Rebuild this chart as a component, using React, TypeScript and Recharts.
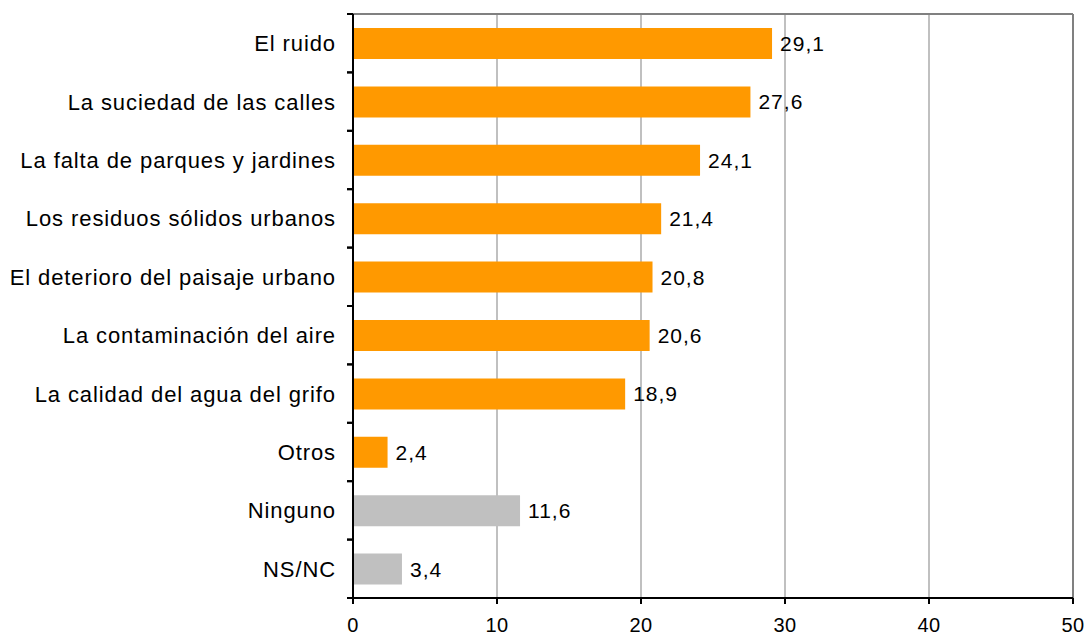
import React from 'react';
import {
  BarChart,
  Bar,
  XAxis,
  YAxis,
  CartesianGrid,
  LabelList,
  ReferenceLine,
  Cell,
} from 'recharts';

const categories = [
  'El ruido',
  'La suciedad de las calles',
  'La falta de parques y jardines',
  'Los residuos sólidos urbanos',
  'El deterioro del paisaje urbano',
  'La contaminación del aire',
  'La calidad del agua del grifo',
  'Otros',
  'Ninguno',
  'NS/NC',
];
const values = [29.1, 27.6, 24.1, 21.4, 20.8, 20.6, 18.9, 2.4, 11.6, 3.4];
const isGray = [false, false, false, false, false, false, false, false, true, true];
const xTicks = [0, 10, 20, 30, 40, 50];

const data = categories.map((name, i) => ({ name, value: values[i], gray: isGray[i] }));

const W = 1090;
const H = 638;
const PLOT_LEFT = 353;
const PLOT_TOP = 14;
const PLOT_BOTTOM = 598;
const BAND = (PLOT_BOTTOM - PLOT_TOP) / categories.length;
const FONT = 'Liberation Sans, Arial, sans-serif';

const CategoryTick = (props: any) => {
  const { y, payload } = props;
  return (
    <g>
      <line x1={PLOT_LEFT - 6} x2={PLOT_LEFT} y1={y - BAND / 2} y2={y - BAND / 2} stroke="#000" strokeWidth={2} />
      <line x1={PLOT_LEFT - 6} x2={PLOT_LEFT} y1={y + BAND / 2} y2={y + BAND / 2} stroke="#000" strokeWidth={2} />
      <text
        x={PLOT_LEFT - 17}
        y={y}
        dy={8}
        textAnchor="end"
        fill="#000"
        fontSize={22}
        fontFamily={FONT}
        letterSpacing={0.9}
      >
        {payload.value}
      </text>
    </g>
  );
};

const fmt = (v: any) => String(v).replace('.', ',');

export default function App() {
  return (
    <div style={{ position: 'absolute', left: 0, top: 0, background: '#fff' }}>
      <BarChart
        width={W}
        height={H}
        data={data}
        layout="vertical"
        margin={{ top: PLOT_TOP, right: 17, bottom: 0, left: 0 }}
        barCategoryGap={0}
      >
        <CartesianGrid horizontal={false} vertical stroke="#c0c0c0" strokeWidth={2} />
        <ReferenceLine x={50} stroke="#808080" strokeWidth={2} />
        <XAxis
          type="number"
          domain={[0, 50]}
          ticks={xTicks}
          height={H - PLOT_BOTTOM}
          axisLine={{ stroke: '#000', strokeWidth: 2 }}
          tickLine={{ stroke: '#000', strokeWidth: 2 }}
          tickSize={6}
          tickMargin={14}
          tick={{ fill: '#000', fontSize: 20, fontFamily: FONT, letterSpacing: 0.5 }}
          interval={0}
        />
        <YAxis
          type="category"
          dataKey="name"
          width={PLOT_LEFT}
          axisLine={{ stroke: '#000', strokeWidth: 2 }}
          tickLine={false}
          tick={<CategoryTick />}
          interval={0}
        />
        <Bar dataKey="value" barSize={31} isAnimationActive={false}>
          {data.map((d, i) => (
            <Cell key={i} fill={d.gray ? '#c0c0c0' : '#ff9900'} />
          ))}
          <LabelList
            dataKey="value"
            position="right"
            offset={8}
            formatter={fmt}
            fill="#000"
            fontSize={21}
            fontFamily={FONT}
            letterSpacing={1}
          />
        </Bar>
        <line x1={PLOT_LEFT} x2={W - 17} y1={PLOT_TOP} y2={PLOT_TOP} stroke="#808080" strokeWidth={2} />
      </BarChart>
    </div>
  );
}
